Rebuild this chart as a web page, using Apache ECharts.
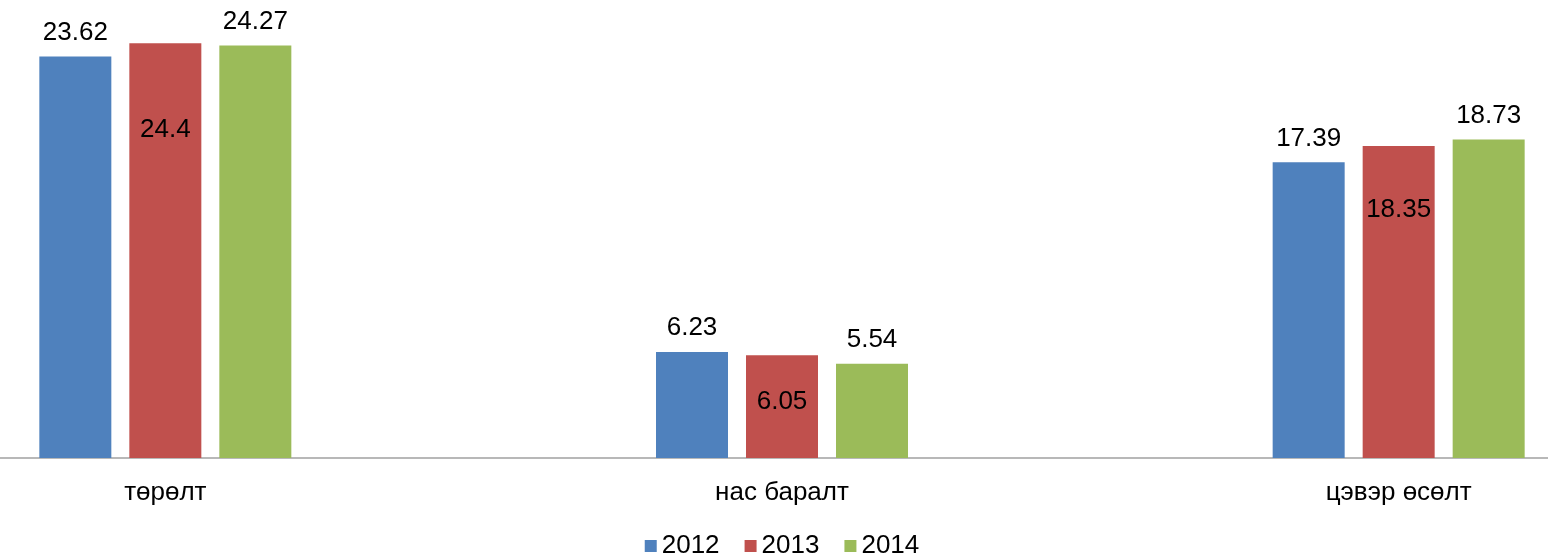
<!DOCTYPE html>
<html>
<head>
<meta charset="utf-8">
<script src="https://cdn.jsdelivr.net/npm/echarts@6/dist/echarts.min.js"></script>
<style>
  html, body { margin: 0; padding: 0; background: #fff; overflow: hidden; }
  /* the reference is a crop of a wider chart, so the canvas spills off both sides */
  #chart { position: absolute; top: 0; left: -143.5px; width: 1849.5px; height: 553px; }
</style>
</head>
<body>
<div id="chart"></div>
<script>
// categories and series
var categories = ['төрөлт', 'нас баралт', 'цэвэр өсөлт'];
var years = ['2012', '2013', '2014'];
var values2012 = [23.62, 6.23, 17.39];
var values2013 = [24.4, 6.05, 18.35];
var values2014 = [24.27, 5.54, 18.73];

var colors = ['#4F81BD', '#C0504D', '#9BBB59'];
// 2013 labels sit inside the bar, some way below its top (same order as categories)
var innerLabelOffset = [74, 34, 51];

var chart = echarts.init(document.getElementById('chart'));

var labelFont = {
  fontFamily: 'Liberation Sans, Arial, sans-serif',
  fontSize: 26,
  color: '#000'
};

function topSeries(name, data, color) {
  return {
    name: name,
    type: 'bar',
    data: data,
    barWidth: 72,
    barGap: '25%',
    itemStyle: { color: color },
    label: Object.assign({ show: true, position: 'top', distance: 11 }, labelFont)
  };
}

var s2013 = {
  name: years[1],
  type: 'bar',
  barWidth: 72,
  barGap: '25%',
  itemStyle: { color: colors[1] },
  data: values2013.map(function (v, i) {
    return {
      value: v,
      label: Object.assign({
        show: true,
        position: 'insideTop',
        distance: 0,
        offset: [0, innerLabelOffset[i]]
      }, labelFont)
    };
  })
};

var option = {
  animation: false,
  color: colors,
  grid: { left: 0, right: 0, top: 16, bottom: 95, containLabel: false },
  legend: {
    data: years,
    top: 528,
    left: 'center',
    itemWidth: 12,
    itemHeight: 12,
    itemGap: 25,
    icon: 'rect',
    textStyle: labelFont
  },
  xAxis: {
    type: 'category',
    data: categories,
    axisLine: { lineStyle: { color: '#a0a0a0', width: 1.5 } },
    axisTick: { show: false },
    axisLabel: Object.assign({ margin: 22 }, labelFont)
  },
  yAxis: {
    type: 'value',
    min: 0,
    max: 26,
    show: false,
    splitLine: { show: false }
  },
  series: [
    topSeries(years[0], values2012, colors[0]),
    s2013,
    topSeries(years[2], values2014, colors[2])
  ]
};

chart.setOption(option);
window.onresize = chart.resize;
</script>
</body>
</html>
